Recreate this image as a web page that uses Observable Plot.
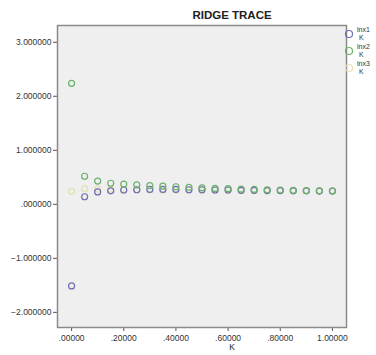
<!DOCTYPE html>
<html><head><meta charset="utf-8">
<script src="https://cdn.jsdelivr.net/npm/d3@7"></script>
<script src="https://cdn.jsdelivr.net/npm/@observablehq/plot@0.6"></script>
<style>
body{margin:0;background:#fff;font-family:"Liberation Sans",Arial,sans-serif;}
#wrap{position:relative;width:376px;height:355px;}
#title{position:absolute;left:0;width:464px;top:9px;text-align:center;font-weight:bold;font-size:11.5px;color:#222;}
#xlab{position:absolute;left:0;width:464px;top:342px;text-align:center;font-size:8.5px;color:#222;}
.leg{position:absolute;left:343px;font-size:7px;line-height:7px;color:#333;}
.leg svg{position:absolute;left:0;top:0;}
.leg span{position:absolute;left:14px;top:-3px;white-space:nowrap;line-height:7px;}
.leg span.k{left:16px;top:5px;}
</style></head>
<body>
<div id="wrap"><div id="chart"></div>
<div id="title">RIDGE TRACE</div>
<div id="xlab">K</div>
<div id="legend"></div>
</div>
<script>
const K = [0,0.05,0.10,0.15,0.20,0.25,0.30,0.35,0.40,0.45,0.50,0.55,0.60,0.65,0.70,0.75,0.80,0.85,0.90,0.95,1.00];
const lnx1 = [-1.51,0.14,0.23,0.25,0.265,0.27,0.275,0.275,0.275,0.27,0.27,0.265,0.265,0.26,0.26,0.255,0.255,0.25,0.25,0.245,0.245];
const lnx2 = [2.24,0.52,0.43,0.39,0.375,0.36,0.345,0.335,0.325,0.315,0.305,0.295,0.29,0.28,0.275,0.27,0.265,0.26,0.255,0.25,0.245];
const lnx3 = [0.24,0.29,0.28,0.275,0.27,0.27,0.27,0.265,0.265,0.265,0.26,0.26,0.26,0.255,0.255,0.255,0.25,0.25,0.25,0.245,0.245];
const seriesNames = ["lnx1","lnx2","lnx3"];
const seriesColors = ["#6e6eb2","#6cb26c","#e4e1b0"];
const yTicks = [-2,-1,0,1,2,3];
const xTicks = [0,0.2,0.4,0.6,0.8,1.0];

// drawing order: lnx3 beneath, then lnx1, then lnx2 on top
const rows = [];
[[lnx3,"lnx3"],[lnx1,"lnx1"],[lnx2,"lnx2"]].forEach(([arr,name])=>arr.forEach((v,i)=>rows.push({k:K[i],v,s:name})));

const fmtY = d => d3.format(".6f")(d).replace(/^0\./,".").replace(/^-0\./,"-.");
const fmtX = d => d3.format(".5f")(d).replace(/^0\./,".");

const chart = Plot.plot({
  width: 376, height: 355,
  marginLeft: 57, marginRight: 30, marginTop: 25, marginBottom: 28,
  style:{fontFamily:"Liberation Sans, Arial, sans-serif", fontSize:"8.5px", color:"#333", background:"transparent"},
  x:{domain:[-0.054,1.054], ticks:xTicks, tickFormat:fmtX, label:null},
  y:{domain:[-2.28,3.31], ticks:yTicks, tickFormat:fmtY, label:null},
  color:{domain:seriesNames, range:seriesColors},
  marks:[
    Plot.frame({fill:"#efefef", stroke:"none"}),
    Plot.axisY({ticks:yTicks, tickFormat:fmtY, tickSize:4, tickPadding:2, stroke:"#555", label:null}),
    Plot.axisX({ticks:xTicks, tickFormat:fmtX, tickSize:4, tickPadding:3, stroke:"#555", label:null}),
    Plot.dot(rows, {x:"k", y:"v", stroke:"s", r:3, strokeWidth:1.2}),
    Plot.frame({stroke:"#8a8a8a", strokeWidth:1.5})
  ]
});
document.getElementById("chart").appendChild(chart);

const leg = document.getElementById("legend");
seriesNames.forEach((n,i)=>{
  const d = document.createElement("div");
  d.className="leg"; d.style.top=(29+i*17)+"px";
  d.innerHTML=`<svg width="12" height="10"><circle cx="6" cy="5" r="3.5" fill="none" stroke="${seriesColors[i]}" stroke-width="1.2"/></svg><span>${n}</span><span class="k">K</span>`;
  leg.appendChild(d);
});
</script>
</body></html>
